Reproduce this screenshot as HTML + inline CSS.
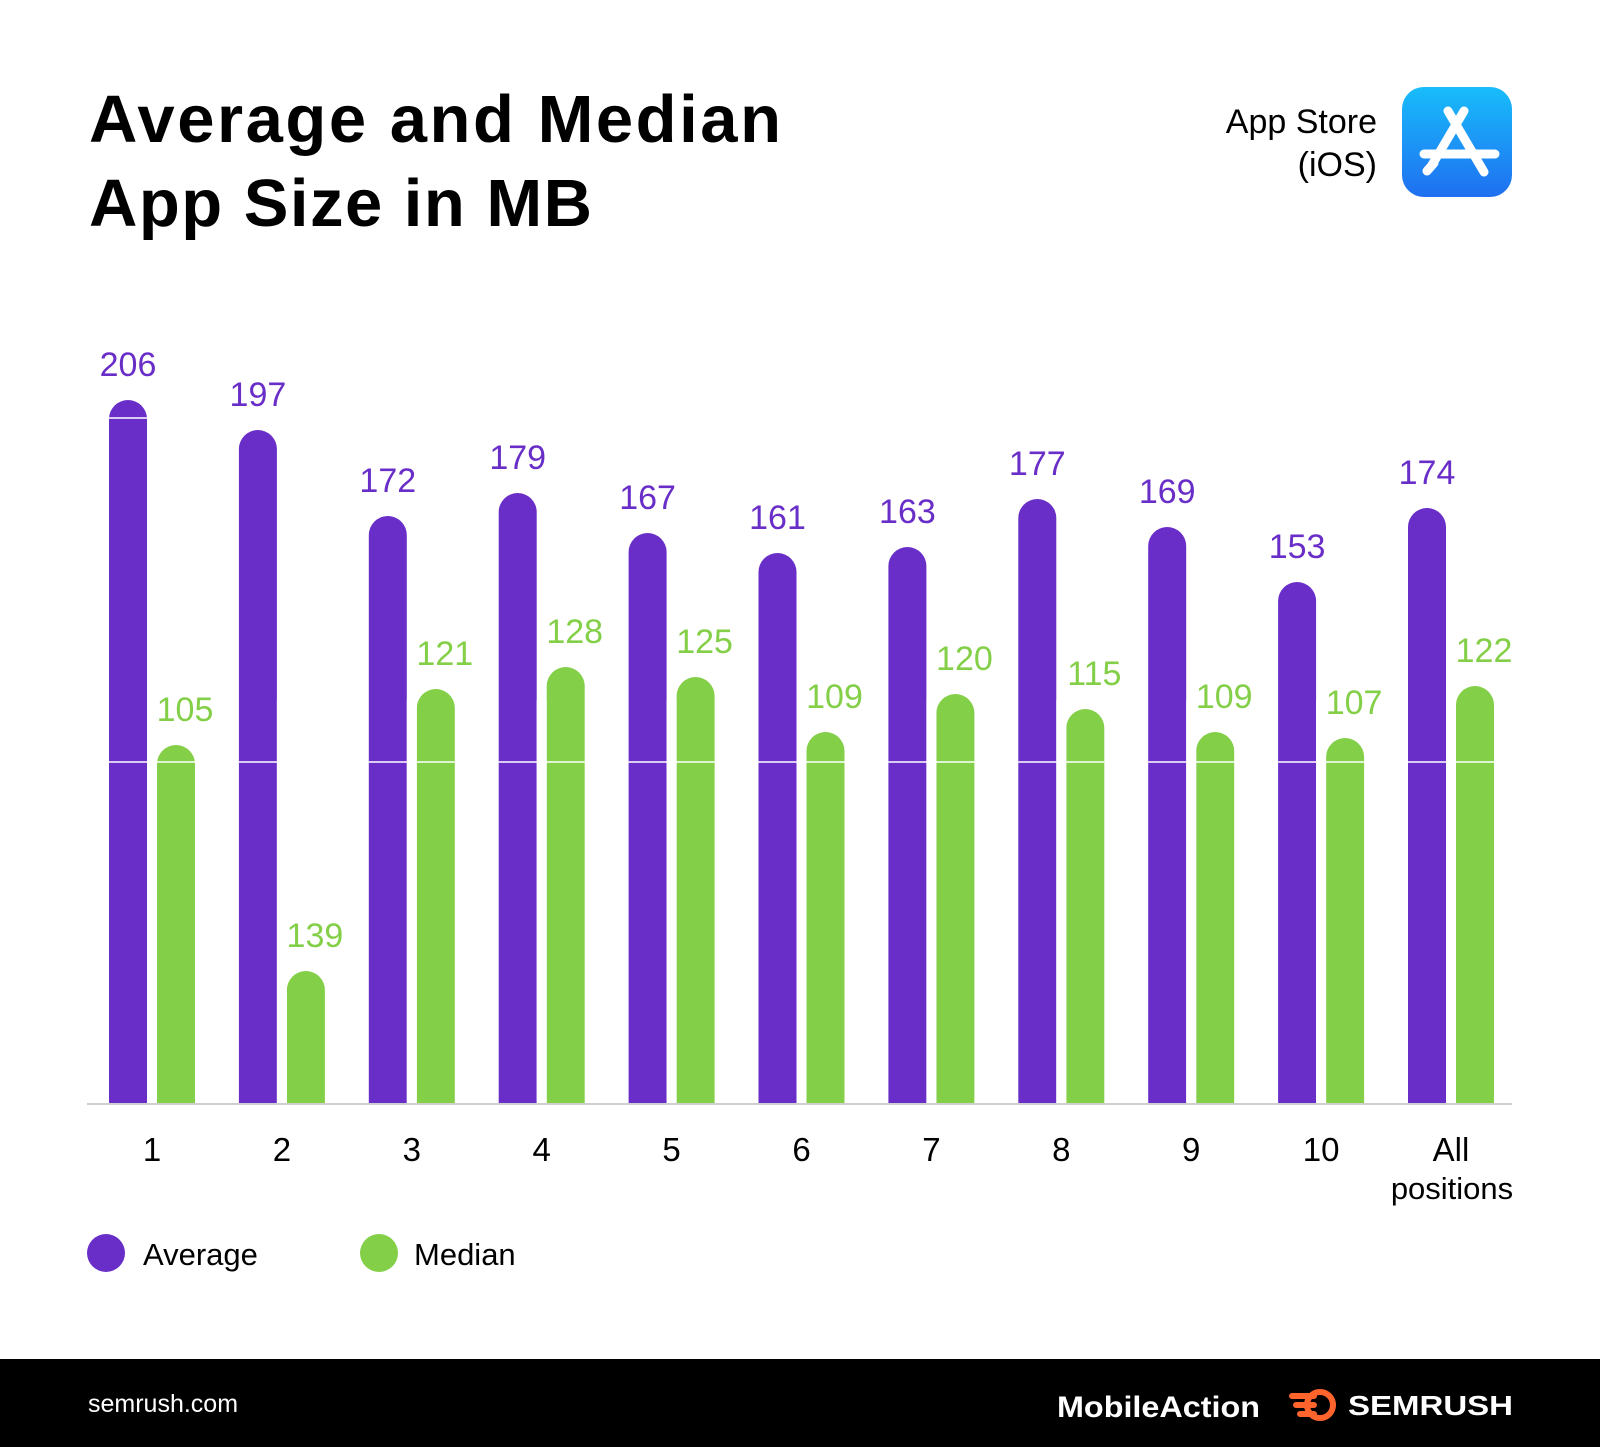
<!DOCTYPE html>
<html><head><meta charset="utf-8"><style>
html,body{margin:0;padding:0;background:#fff}
svg{display:block}
text{font-family:"Liberation Sans",sans-serif}
</style></head><body>
<svg width="1600" height="1447" viewBox="0 0 1600 1447" xmlns="http://www.w3.org/2000/svg">
<rect width="1600" height="1447" fill="#fff"/>
<text x="89" y="142" font-size="67" font-weight="bold" fill="#000" textLength="692" lengthAdjust="spacing">Average and Median</text>
<text x="89" y="226" font-size="67" font-weight="bold" fill="#000" textLength="503" lengthAdjust="spacing">App Size in MB</text>
<text x="1377" y="133" font-size="34" text-anchor="end" fill="#000">App Store</text>
<text x="1377" y="176" font-size="34" text-anchor="end" fill="#000">(iOS)</text>
<defs><linearGradient id="g" x1="0" y1="0" x2="0" y2="1"><stop offset="0" stop-color="#18bdfb"/><stop offset="1" stop-color="#1f6ff0"/></linearGradient></defs>
<rect x="1402" y="87" width="110" height="110" rx="22" fill="url(#g)"/>
<g stroke="#fff" stroke-width="9" stroke-linecap="round" fill="none">
<line x1="1448" y1="111" x2="1484" y2="172"/>
<line x1="1464" y1="111" x2="1432" y2="165"/>
<line x1="1424" y1="154" x2="1495" y2="154"/>
<line x1="1427" y1="171" x2="1434" y2="163"/>
</g>
<g id="bars"></g>
<line x1="87" y1="1104" x2="1512" y2="1104" stroke="#cfcfcf" stroke-width="2"/>
<circle cx="106" cy="1253" r="19" fill="#6a2ec8"/>
<text x="143" y="1265" font-size="31" fill="#000">Average</text>
<circle cx="379" cy="1253" r="19" fill="#84cf48"/>
<text x="414" y="1265" font-size="31" fill="#000">Median</text>
<rect x="0" y="1359" width="1600" height="88" fill="#000"/>
<text x="88" y="1412" font-size="25" fill="#fff">semrush.com</text>
<text x="1057" y="1417" font-size="30" font-weight="bold" fill="#fff" textLength="203" lengthAdjust="spacingAndGlyphs">MobileAction</text>
<path d="M1292 1396 h22 M1296 1405 h18 M1300 1414 h14" stroke="#ff642d" stroke-width="6" stroke-linecap="round"/>
<circle cx="1320" cy="1405" r="13" fill="none" stroke="#ff642d" stroke-width="6"/>
<text x="1348" y="1415" font-size="28" font-weight="bold" fill="#fff" textLength="165" lengthAdjust="spacingAndGlyphs">SEMRUSH</text>
</svg>
<script>
var avg=[206,197,172,179,167,161,163,177,169,153,174];
var med=[105,139,121,128,125,109,120,115,109,107,122];
var at=[400,430,516,493,533,553,547,499,527,582,508];
var mt=[745,971,689,667,677,732,694,709,732,738,686];
var labs=["1","2","3","4","5","6","7","8","9","10","All"];
var s="",B=1103,W=38;
function bar(x,t,c){return '<path d="M'+x+' '+B+' V'+(t+19)+' A19 19 0 0 1 '+(x+W)+' '+(t+19)+' V'+B+' Z" fill="'+c+'"/>';}
for(var i=0;i<11;i++){
 var x=109+i*129.9, xm=x+48;
 s+=bar(x,at[i],'#6a2ec8');
 s+=bar(xm,mt[i],'#84cf48');
 s+='<text x="'+(x+19)+'" y="'+(at[i]-24)+'" font-size="34" text-anchor="middle" fill="#6a2ec8">'+avg[i]+'</text>';
 s+='<text x="'+(xm+28)+'" y="'+(mt[i]-24)+'" font-size="34" text-anchor="middle" fill="#84cf48">'+med[i]+'</text>';
 s+='<line x1="'+x+'" y1="762" x2="'+(xm+W)+'" y2="762" stroke="#fff" stroke-width="1.5"/>';
 s+='<rect x="'+(x+W)+'" y="700" width="10" height="410" fill="#fff"/>';
 s+='<text x="'+(x+43)+'" y="1161" font-size="33" text-anchor="middle" fill="#000">'+labs[i]+'</text>';
}
s+='<line x1="109" y1="418" x2="147" y2="418" stroke="#fff" stroke-width="1.5"/>';
s+='<text x="1452" y="1199" font-size="31" text-anchor="middle" fill="#000">positions</text>';
document.getElementById('bars').innerHTML=s;
</script>
</body></html>
